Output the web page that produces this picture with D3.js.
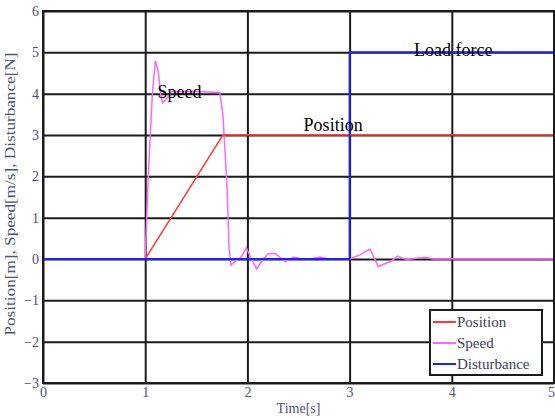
<!DOCTYPE html>
<html>
<head>
<meta charset="utf-8">
<script src="https://cdn.jsdelivr.net/npm/d3@7"></script>
<style>
  body { margin: 0; background: #fff; }
  svg { display: block; }
  text { font-family: "Liberation Serif", "Times New Roman", serif; }
  .axis text { font-size: 14px; fill: #4b5375; }
  .axis path { display: none; }
  .grid line { stroke: #1a1a1a; stroke-width: 2; }
</style>
</head>
<body>
<div id="chart"></div>
<script>
// data
const xTicks = [0, 1, 2, 3, 4, 5];
const yTicks = [-3, -2, -1, 0, 1, 2, 3, 4, 5, 6];

const posTime = [0, 1, 1.76, 3, 5];
const posValue = [0, 0, 3, 3, 3];

const speedTime = [0, 1.0, 1.03, 1.07, 1.1, 1.13, 1.15, 1.17, 1.2, 1.26, 1.5, 1.73, 1.76, 1.8, 1.82, 1.84, 1.88, 1.94, 1.99, 2.04, 2.09, 2.15, 2.2, 2.27, 2.37, 2.45, 2.53, 2.61, 2.71, 2.8, 3.0, 3.1, 3.2, 3.28, 3.4, 3.47, 3.56, 3.65, 3.74, 3.82, 5];
const speedValue = [0, 0, 2.0, 4.0, 4.8, 4.5, 4.0, 3.78, 3.85, 4.05, 4.05, 4.03, 3.5, 1.8, 0.3, -0.15, -0.06, 0.05, 0.27, 0.0, -0.24, -0.02, 0.12, 0.14, -0.07, 0.05, 0.0, 0.0, 0.05, 0.0, 0.0, 0.1, 0.24, -0.18, -0.06, 0.07, -0.02, 0.02, 0.04, 0.0, 0.0];

const distTime = [0, 3, 3, 5];
const distValue = [0, 0, 5, 5];

const seriesNames = ["Position", "Speed", "Disturbance"];
const seriesColors = ["#ff3b3b", "#ff66ff", "#2222ff"];

const width = 555, height = 418;
const margin = { top: 11, right: 1, bottom: 35, left: 43 };

const svg = d3.select("#chart").append("svg")
  .attr("width", width)
  .attr("height", height);

const x = d3.scaleLinear().domain([0, 5]).range([margin.left, width - margin.right]);
const y = d3.scaleLinear().domain([-3, 6]).range([height - margin.bottom, margin.top]);

const plotW = x.range()[1] - x.range()[0];
const plotH = y.range()[0] - y.range()[1];

// grid
svg.append("g").attr("class", "grid")
  .attr("transform", `translate(0,${y(-3)})`)
  .call(d3.axisBottom(x).tickValues(xTicks).tickSize(-plotH).tickFormat(""))
  .call(g => g.select(".domain").remove());
svg.append("g").attr("class", "grid")
  .attr("transform", `translate(${x(0)},0)`)
  .call(d3.axisLeft(y).tickValues(yTicks).tickSize(-plotW).tickFormat(""))
  .call(g => g.select(".domain").remove());

// lines
const line = d3.line().x(d => x(d[0])).y(d => y(d[1]));
const zip = (a, b) => a.map((v, i) => [v, b[i]]);

svg.append("path").datum(zip(speedTime, speedValue))
  .attr("fill", "none").attr("stroke", seriesColors[1]).attr("stroke-width", 1.5)
  .attr("d", line);
svg.append("path").datum(zip(posTime, posValue))
  .attr("fill", "none").attr("stroke", seriesColors[0]).attr("stroke-width", 1.5)
  .attr("d", line);
svg.append("path").datum(zip(distTime, distValue))
  .attr("fill", "none").attr("stroke", seriesColors[2]).attr("stroke-width", 2)
  .attr("d", line);

// border
svg.append("rect")
  .attr("x", x(0)).attr("y", y(6))
  .attr("width", plotW).attr("height", plotH)
  .attr("fill", "none").attr("stroke", "#1a1a1a").attr("stroke-width", 2);

// axes labels
svg.append("g").attr("class", "axis")
  .attr("transform", `translate(0,${y(-3)})`)
  .call(d3.axisBottom(x).tickValues(xTicks).tickSize(0).tickPadding(4).tickFormat(d3.format("d")))
  .attr("font-family", null)
  .call(g => g.selectAll(".tick").filter(d => d === 5).select("text").attr("dx", "-3"));
svg.append("g").attr("class", "axis")
  .attr("transform", `translate(${x(0)},0)`)
  .call(d3.axisLeft(y).tickValues(yTicks).tickSize(0).tickPadding(4).tickFormat(d3.format("d")))
  .attr("font-family", null);

svg.append("text")
  .attr("x", (x(0) + x(5)) / 2).attr("y", 413)
  .attr("text-anchor", "middle")
  .style("font-size", "14px").style("fill", "#4b5375")
  .text("Time[s]");
svg.append("text")
  .attr("transform", `translate(15,${(y(6) + y(-3)) / 2 - 3}) rotate(-90)`)
  .attr("text-anchor", "middle")
  .attr("textLength", 283).attr("lengthAdjust", "spacingAndGlyphs")
  .style("font-size", "14px").style("fill", "#4b5375")
  .text("Position[m], Speed[m/s], Disturbance[N]");

// annotations
const annot = [
  { text: "Speed", t: 1.12, v: 3.9 },
  { text: "Position", t: 2.55, v: 3.1 },
  { text: "Load force", t: 3.63, v: 4.9 }
];
svg.selectAll(".annot").data(annot).join("text")
  .attr("class", "annot")
  .attr("x", d => x(d.t)).attr("y", d => y(d.v))
  .style("font-size", "18px").style("fill", "#000")
  .text(d => d.text);

// legend
const legend = svg.append("g").attr("transform", "translate(430,310)");
legend.append("rect")
  .attr("width", 112).attr("height", 65)
  .attr("fill", "#fff").attr("stroke", "#1a1a1a").attr("stroke-width", 2);
seriesNames.forEach((name, i) => {
  const row = legend.append("g").attr("transform", `translate(0,${12 + i * 21})`);
  row.append("line").attr("x1", 3).attr("x2", 26)
    .attr("stroke", seriesColors[i]).attr("stroke-width", 2);
  row.append("text").attr("x", 27).attr("y", 5)
    .style("font-size", "15px").style("fill", "#3a3f5a")
    .text(name);
});
</script>
</body>
</html>
